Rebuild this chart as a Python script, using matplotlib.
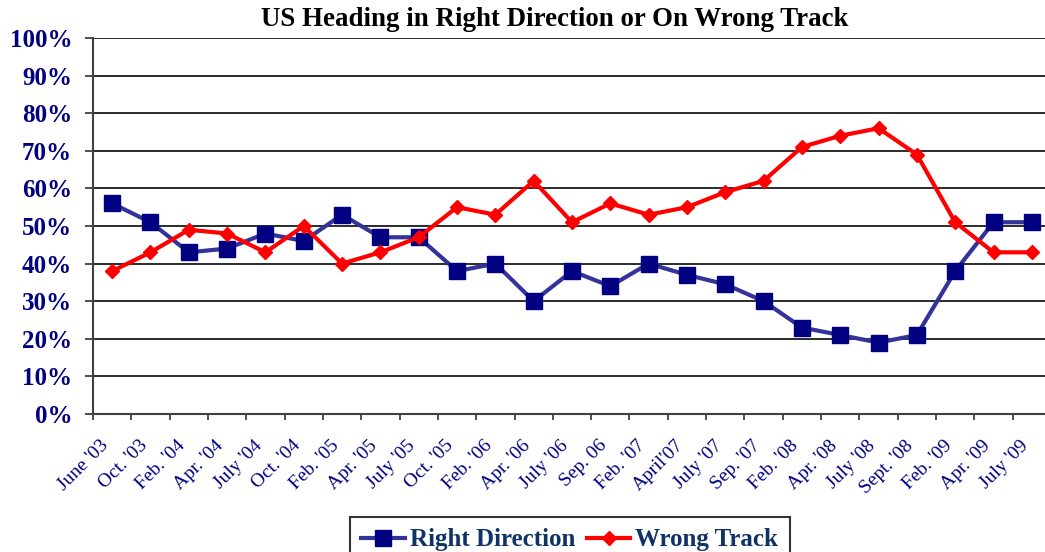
import matplotlib
matplotlib.use("Agg")
import matplotlib.pyplot as plt
import numpy as np
from matplotlib.transforms import ScaledTranslation

categories = ["June '03", "Oct. '03", "Feb. '04", "Apr. '04", "July '04", "Oct. '04",
              "Feb. '05", "Apr. '05", "July '05", "Oct. '05", "Feb. '06", "Apr. '06",
              "July '06", "Sep. 06", "Feb. '07", "April'07", "July '07", "Sep. '07",
              "Feb. '08", "Apr. '08", "July '08", "Sept. '08", "Feb. '09", "Apr. '09",
              "July '09"]
right_direction = [56, 51, 43, 44, 48, 46, 53, 47, 47, 38, 40, 30, 38, 34, 40, 37,
                   34.5, 30, 23, 21, 19, 21, 38, 51, 51]
wrong_track = [38, 43, 49, 48, 43, 50, 40, 43, 47, 55, 53, 62, 51, 56, 53, 55,
               59, 62, 71, 74, 76, 69, 51, 43, 43]
y_ticks = list(range(0, 101, 10))
title = "US Heading in Right Direction or On Wrong Track"

plt.rcParams['font.family'] = ['Liberation Serif', 'DejaVu Serif']

W, H = 1045, 552
fig = plt.figure(figsize=(W / 100, H / 100), dpi=100)
ax = fig.add_axes([93 / W, (H - 414) / H, 958 / W, 376 / H])

x = np.arange(len(categories))
ax.plot(x, right_direction, color='#333399', lw=3, marker='s', ms=11,
        mfc='#000080', mec='#000080', label='Right Direction', zorder=3)
ax.plot(x, wrong_track, color='#FF0000', lw=3, marker='D', ms=7.5,
        mfc='#FF0000', mec='#FF0000', label='Wrong Track', zorder=4)

ax.set_xlim(-0.5, len(categories) - 0.5)
ax.set_ylim(0, 100)

ax.set_yticks(y_ticks)
ax.set_yticklabels([f"{v}%" for v in y_ticks])
ax.yaxis.grid(True, color='#1a1a1a', lw=1.3)
ax.set_axisbelow(True)
ax.tick_params(axis='y', length=6, width=1.3, color='#404040', pad=9,
               labelsize=18, labelcolor='#000080')
for lbl in ax.get_yticklabels():
    lbl.set_fontweight('bold')

ax.set_xticks(x)
ax.set_xticklabels(categories, rotation=45, ha='right', va='top',
                   rotation_mode='anchor')
ax.set_xticks(np.arange(len(categories) + 1) - 0.5, minor=True)
ax.tick_params(axis='x', which='major', length=0, pad=0, labelsize=14,
               labelcolor='#000080')
ax.tick_params(axis='x', which='minor', length=4, width=1.3, color='#404040')
offset = ScaledTranslation(-0.12, -0.23, fig.dpi_scale_trans)
for lbl in ax.get_xticklabels():
    lbl.set_transform(lbl.get_transform() + offset)

for s in ['top', 'right']:
    ax.spines[s].set_visible(False)
ax.spines['left'].set_color('#404040')
ax.spines['left'].set_linewidth(1.5)
ax.spines['bottom'].set_color('#404040')
ax.spines['bottom'].set_linewidth(1.5)

fig.text(555 / W, 1 - 19 / H, title, ha='center', va='center',
         fontsize=19.4, fontweight='bold', color='black')

leg = ax.legend(loc='upper left', bbox_to_anchor=(350 / W, 1 - 517 / H),
                bbox_transform=fig.transFigure, ncol=2, frameon=True,
                fancybox=False, borderaxespad=0, borderpad=0.45,
                handlelength=1.75, handletextpad=0.2, columnspacing=0.45,
                prop={'size': 18, 'weight': 'bold'})
leg.get_frame().set_edgecolor('black')
leg.get_frame().set_linewidth(1.5)
for t in leg.get_texts():
    t.set_color('#0f3366')

fig.savefig('out.png', dpi=100)
